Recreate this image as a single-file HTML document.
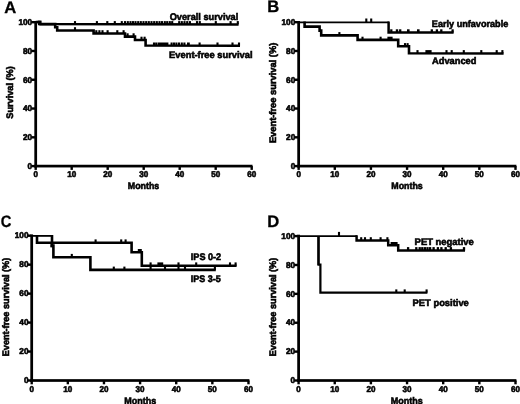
<!DOCTYPE html>
<html><head><meta charset="utf-8"><title>Figure</title>
<style>
html,body{margin:0;padding:0;background:#fff;}
body{width:520px;height:404px;overflow:hidden;font-family:"Liberation Sans",sans-serif;}
svg{display:block;}
svg text{font-family:"Liberation Sans",sans-serif;font-weight:bold;fill:#000;stroke:#000;stroke-width:0.58px;text-rendering:geometricPrecision;}
</style></head><body>
<svg width="520" height="404" viewBox="0 0 520 404">
<defs><filter id="bl" x="0" y="0" width="520" height="404" filterUnits="userSpaceOnUse"><feGaussianBlur stdDeviation="0.22"/></filter></defs>
<rect x="0" y="0" width="520" height="404" fill="#fff"/>
<g filter="url(#bl)">
<rect x="34.33" y="21.00" width="2.75" height="146.45" fill="#000"/>
<rect x="34.35" y="164.75" width="218.15" height="2.70" fill="#000"/>
<rect x="34.50" y="166.10" width="2.4" height="3.8" fill="#000"/>
<text x="35.70" y="177.20" font-size="8.40" text-anchor="middle" textLength="4.50" lengthAdjust="spacingAndGlyphs">0</text>
<rect x="70.50" y="166.10" width="2.4" height="3.8" fill="#000"/>
<text x="71.70" y="177.20" font-size="8.40" text-anchor="middle" textLength="9.01" lengthAdjust="spacingAndGlyphs">10</text>
<rect x="106.50" y="166.10" width="2.4" height="3.8" fill="#000"/>
<text x="107.70" y="177.20" font-size="8.40" text-anchor="middle" textLength="9.01" lengthAdjust="spacingAndGlyphs">20</text>
<rect x="142.50" y="166.10" width="2.4" height="3.8" fill="#000"/>
<text x="143.70" y="177.20" font-size="8.40" text-anchor="middle" textLength="9.01" lengthAdjust="spacingAndGlyphs">30</text>
<rect x="178.50" y="166.10" width="2.4" height="3.8" fill="#000"/>
<text x="179.70" y="177.20" font-size="8.40" text-anchor="middle" textLength="9.01" lengthAdjust="spacingAndGlyphs">40</text>
<rect x="214.50" y="166.10" width="2.4" height="3.8" fill="#000"/>
<text x="215.70" y="177.20" font-size="8.40" text-anchor="middle" textLength="9.01" lengthAdjust="spacingAndGlyphs">50</text>
<rect x="250.50" y="166.10" width="2.4" height="3.8" fill="#000"/>
<text x="251.70" y="177.20" font-size="8.40" text-anchor="middle" textLength="9.01" lengthAdjust="spacingAndGlyphs">60</text>
<rect x="31.30" y="21.00" width="4" height="2.4" fill="#000"/>
<text x="32.20" y="24.95" font-size="8.40" text-anchor="end" textLength="13.76" lengthAdjust="spacingAndGlyphs">100</text>
<rect x="31.30" y="49.78" width="4" height="2.4" fill="#000"/>
<text x="32.20" y="53.73" font-size="8.40" text-anchor="end" textLength="9.17" lengthAdjust="spacingAndGlyphs">80</text>
<rect x="31.30" y="78.56" width="4" height="2.4" fill="#000"/>
<text x="32.20" y="82.51" font-size="8.40" text-anchor="end" textLength="9.17" lengthAdjust="spacingAndGlyphs">60</text>
<rect x="31.30" y="107.34" width="4" height="2.4" fill="#000"/>
<text x="32.20" y="111.29" font-size="8.40" text-anchor="end" textLength="9.17" lengthAdjust="spacingAndGlyphs">40</text>
<rect x="31.30" y="136.12" width="4" height="2.4" fill="#000"/>
<text x="32.20" y="140.07" font-size="8.40" text-anchor="end" textLength="9.17" lengthAdjust="spacingAndGlyphs">20</text>
<rect x="31.30" y="164.90" width="4" height="2.4" fill="#000"/>
<text x="32.20" y="168.85" font-size="8.40" text-anchor="end" textLength="4.59" lengthAdjust="spacingAndGlyphs">0</text>
<text x="4.20" y="12.70" font-size="16.60" text-anchor="start" style="stroke-width:0.30px">A</text>
<text x="13.00" y="92.50" font-size="9.50" text-anchor="middle" textLength="52.40" lengthAdjust="spacingAndGlyphs" transform="rotate(-90 13.00 92.50)">Survival (%)</text>
<text x="143.50" y="189.30" font-size="9.50" text-anchor="middle" textLength="31.50" lengthAdjust="spacingAndGlyphs">Months</text>
<text x="169.70" y="20.00" font-size="9.50" text-anchor="start" textLength="68.60" lengthAdjust="spacingAndGlyphs">Overall survival</text>
<text x="169.10" y="58.40" font-size="9.50" text-anchor="start" textLength="83.50" lengthAdjust="spacingAndGlyphs">Event-free survival</text>
<rect x="37.7" y="20.6" width="3.9" height="3.6" fill="#000"/>
<path d="M35.70 22.00 L39.30 22.00 L39.30 24.05 L130.00 24.20 L238.60 24.50" fill="none" stroke="#000" stroke-width="2.60" stroke-linejoin="miter" stroke-linecap="butt"/>
<rect x="73.95" y="21.10" width="2.10" height="3.20" fill="#000"/>
<rect x="95.85" y="21.10" width="2.10" height="3.20" fill="#000"/>
<rect x="106.25" y="21.10" width="2.10" height="3.20" fill="#000"/>
<rect x="113.75" y="21.10" width="2.10" height="3.20" fill="#000"/>
<rect x="120.75" y="21.10" width="2.10" height="3.20" fill="#000"/>
<rect x="123.95" y="21.10" width="2.10" height="3.20" fill="#000"/>
<rect x="126.75" y="21.10" width="2.10" height="3.20" fill="#000"/>
<rect x="129.45" y="21.10" width="2.10" height="3.20" fill="#000"/>
<rect x="131.95" y="21.10" width="2.10" height="3.20" fill="#000"/>
<rect x="134.45" y="21.10" width="2.10" height="3.20" fill="#000"/>
<rect x="137.15" y="21.10" width="2.10" height="3.20" fill="#000"/>
<rect x="139.75" y="21.10" width="2.10" height="3.20" fill="#000"/>
<rect x="142.45" y="21.10" width="2.10" height="3.20" fill="#000"/>
<rect x="145.15" y="21.10" width="2.10" height="3.20" fill="#000"/>
<rect x="147.75" y="21.10" width="2.10" height="3.20" fill="#000"/>
<rect x="150.45" y="21.10" width="2.10" height="3.20" fill="#000"/>
<rect x="153.15" y="21.10" width="2.10" height="3.20" fill="#000"/>
<rect x="155.75" y="21.10" width="2.10" height="3.20" fill="#000"/>
<rect x="158.45" y="21.10" width="2.10" height="3.20" fill="#000"/>
<rect x="160.95" y="21.10" width="2.10" height="3.20" fill="#000"/>
<rect x="163.75" y="21.10" width="2.10" height="3.20" fill="#000"/>
<rect x="166.15" y="21.10" width="2.10" height="3.20" fill="#000"/>
<rect x="168.75" y="21.10" width="2.10" height="3.20" fill="#000"/>
<rect x="171.15" y="21.10" width="2.10" height="3.20" fill="#000"/>
<rect x="178.15" y="21.10" width="2.10" height="3.20" fill="#000"/>
<rect x="180.75" y="21.10" width="2.10" height="3.20" fill="#000"/>
<rect x="183.45" y="21.10" width="2.10" height="3.20" fill="#000"/>
<rect x="186.15" y="21.10" width="2.10" height="3.20" fill="#000"/>
<rect x="188.85" y="21.10" width="2.10" height="3.20" fill="#000"/>
<rect x="195.95" y="21.10" width="2.10" height="3.20" fill="#000"/>
<rect x="198.75" y="21.10" width="2.10" height="3.20" fill="#000"/>
<rect x="214.75" y="21.10" width="2.10" height="3.20" fill="#000"/>
<rect x="229.55" y="21.10" width="2.10" height="3.20" fill="#000"/>
<rect x="236.75" y="21.10" width="2.10" height="3.20" fill="#000"/>
<path d="M39.30 24.10 L55.20 24.10 L55.20 27.20 L57.20 27.20 L57.20 30.50 L93.60 30.50 L93.60 33.50 L125.00 33.50 L125.00 36.60 L135.00 36.60 L135.00 40.00 L145.60 40.00 L145.60 45.50 L240.00 45.80" fill="none" stroke="#000" stroke-width="2.60" stroke-linejoin="miter" stroke-linecap="butt"/>
<rect x="73.95" y="27.20" width="2.10" height="3.30" fill="#000"/>
<rect x="95.25" y="30.20" width="2.10" height="3.30" fill="#000"/>
<rect x="98.35" y="30.20" width="2.10" height="3.30" fill="#000"/>
<rect x="101.45" y="30.20" width="2.10" height="3.30" fill="#000"/>
<rect x="106.55" y="30.20" width="2.10" height="3.30" fill="#000"/>
<rect x="116.25" y="30.20" width="2.10" height="3.30" fill="#000"/>
<rect x="122.55" y="30.20" width="2.10" height="3.30" fill="#000"/>
<rect x="126.55" y="33.30" width="2.10" height="3.30" fill="#000"/>
<rect x="132.55" y="33.30" width="2.10" height="3.30" fill="#000"/>
<rect x="140.45" y="36.70" width="2.10" height="3.30" fill="#000"/>
<rect x="143.55" y="36.70" width="2.10" height="3.30" fill="#000"/>
<rect x="152.95" y="42.50" width="2.10" height="3.20" fill="#000"/>
<rect x="155.15" y="42.50" width="2.10" height="3.20" fill="#000"/>
<rect x="157.60" y="42.50" width="10.80" height="3.20" fill="#000"/>
<rect x="170.55" y="42.50" width="2.10" height="3.20" fill="#000"/>
<rect x="172.95" y="42.50" width="2.10" height="3.20" fill="#000"/>
<rect x="175.35" y="42.50" width="2.10" height="3.20" fill="#000"/>
<rect x="177.95" y="42.50" width="2.10" height="3.20" fill="#000"/>
<rect x="180.75" y="42.50" width="2.10" height="3.20" fill="#000"/>
<rect x="183.35" y="42.50" width="2.10" height="3.20" fill="#000"/>
<rect x="187.00" y="42.50" width="2.80" height="3.20" fill="#000"/>
<rect x="198.55" y="42.50" width="2.10" height="3.20" fill="#000"/>
<rect x="216.45" y="42.50" width="2.10" height="3.20" fill="#000"/>
<rect x="231.45" y="42.50" width="2.10" height="3.20" fill="#000"/>
<rect x="237.95" y="42.50" width="2.10" height="3.20" fill="#000"/>
<rect x="297.27" y="21.00" width="2.75" height="146.45" fill="#000"/>
<rect x="297.30" y="164.75" width="219.10" height="2.70" fill="#000"/>
<rect x="297.45" y="166.10" width="2.4" height="3.8" fill="#000"/>
<text x="298.65" y="177.20" font-size="8.40" text-anchor="middle" textLength="4.50" lengthAdjust="spacingAndGlyphs">0</text>
<rect x="333.59" y="166.10" width="2.4" height="3.8" fill="#000"/>
<text x="334.79" y="177.20" font-size="8.40" text-anchor="middle" textLength="9.01" lengthAdjust="spacingAndGlyphs">10</text>
<rect x="369.73" y="166.10" width="2.4" height="3.8" fill="#000"/>
<text x="370.93" y="177.20" font-size="8.40" text-anchor="middle" textLength="9.01" lengthAdjust="spacingAndGlyphs">20</text>
<rect x="405.87" y="166.10" width="2.4" height="3.8" fill="#000"/>
<text x="407.07" y="177.20" font-size="8.40" text-anchor="middle" textLength="9.01" lengthAdjust="spacingAndGlyphs">30</text>
<rect x="442.01" y="166.10" width="2.4" height="3.8" fill="#000"/>
<text x="443.21" y="177.20" font-size="8.40" text-anchor="middle" textLength="9.01" lengthAdjust="spacingAndGlyphs">40</text>
<rect x="478.15" y="166.10" width="2.4" height="3.8" fill="#000"/>
<text x="479.35" y="177.20" font-size="8.40" text-anchor="middle" textLength="9.01" lengthAdjust="spacingAndGlyphs">50</text>
<rect x="514.29" y="166.10" width="2.4" height="3.8" fill="#000"/>
<text x="515.49" y="177.20" font-size="8.40" text-anchor="middle" textLength="9.01" lengthAdjust="spacingAndGlyphs">60</text>
<rect x="294.25" y="21.00" width="4" height="2.4" fill="#000"/>
<text x="295.25" y="24.95" font-size="8.40" text-anchor="end" textLength="13.76" lengthAdjust="spacingAndGlyphs">100</text>
<rect x="294.25" y="49.78" width="4" height="2.4" fill="#000"/>
<text x="295.25" y="53.73" font-size="8.40" text-anchor="end" textLength="9.17" lengthAdjust="spacingAndGlyphs">80</text>
<rect x="294.25" y="78.56" width="4" height="2.4" fill="#000"/>
<text x="295.25" y="82.51" font-size="8.40" text-anchor="end" textLength="9.17" lengthAdjust="spacingAndGlyphs">60</text>
<rect x="294.25" y="107.34" width="4" height="2.4" fill="#000"/>
<text x="295.25" y="111.29" font-size="8.40" text-anchor="end" textLength="9.17" lengthAdjust="spacingAndGlyphs">40</text>
<rect x="294.25" y="136.12" width="4" height="2.4" fill="#000"/>
<text x="295.25" y="140.07" font-size="8.40" text-anchor="end" textLength="9.17" lengthAdjust="spacingAndGlyphs">20</text>
<rect x="294.25" y="164.90" width="4" height="2.4" fill="#000"/>
<text x="295.25" y="168.85" font-size="8.40" text-anchor="end" textLength="4.59" lengthAdjust="spacingAndGlyphs">0</text>
<text x="267.20" y="12.30" font-size="16.60" text-anchor="start" style="stroke-width:0.30px">B</text>
<text x="276.50" y="92.90" font-size="9.50" text-anchor="middle" textLength="100.40" lengthAdjust="spacingAndGlyphs" transform="rotate(-90 276.50 92.90)">Event-free survival (%)</text>
<text x="407.00" y="189.30" font-size="9.50" text-anchor="middle" textLength="31.50" lengthAdjust="spacingAndGlyphs">Months</text>
<text x="431.80" y="26.80" font-size="9.50" text-anchor="start" textLength="76.50" lengthAdjust="spacingAndGlyphs">Early unfavorable</text>
<text x="432.00" y="63.60" font-size="9.50" text-anchor="start" textLength="44.40" lengthAdjust="spacingAndGlyphs">Advanced</text>
<path d="M298.65 22.40 L389.00 22.40" fill="none" stroke="#000" stroke-width="1.80" stroke-linejoin="miter" stroke-linecap="butt"/>
<path d="M388.60 21.60 L388.60 32.60 L453.60 32.60" fill="none" stroke="#000" stroke-width="2.50" stroke-linejoin="miter" stroke-linecap="butt"/>
<rect x="365.25" y="18.50" width="2.10" height="3.90" fill="#000"/>
<rect x="370.15" y="18.50" width="2.10" height="3.90" fill="#000"/>
<rect x="390.15" y="29.30" width="2.30" height="3.30" fill="#000"/>
<rect x="395.80" y="29.30" width="2.40" height="3.30" fill="#000"/>
<rect x="399.05" y="29.30" width="2.30" height="3.30" fill="#000"/>
<rect x="407.00" y="29.30" width="2.60" height="3.30" fill="#000"/>
<rect x="417.00" y="29.30" width="2.60" height="3.30" fill="#000"/>
<rect x="430.65" y="29.30" width="2.30" height="3.30" fill="#000"/>
<rect x="435.75" y="29.30" width="2.30" height="3.30" fill="#000"/>
<rect x="440.15" y="29.30" width="2.30" height="3.30" fill="#000"/>
<rect x="451.45" y="29.30" width="2.30" height="3.30" fill="#000"/>
<path d="M304.60 21.60 L304.60 26.60 L319.60 26.60 L319.60 30.60 L321.20 30.60 L321.20 35.40 L357.60 35.40 L357.60 39.90 L398.20 39.90 L398.20 46.30 L409.00 46.30 L409.00 53.30 L503.60 53.50" fill="none" stroke="#000" stroke-width="2.60" stroke-linejoin="miter" stroke-linecap="butt"/>
<rect x="338.35" y="32.10" width="2.10" height="3.30" fill="#000"/>
<rect x="361.45" y="36.70" width="2.10" height="3.20" fill="#000"/>
<rect x="379.55" y="36.70" width="2.10" height="3.20" fill="#000"/>
<rect x="387.40" y="36.70" width="5.20" height="3.20" fill="#000"/>
<rect x="403.95" y="43.10" width="2.10" height="3.20" fill="#000"/>
<rect x="406.55" y="43.10" width="2.10" height="3.20" fill="#000"/>
<rect x="416.45" y="50.10" width="2.10" height="3.30" fill="#000"/>
<rect x="425.40" y="50.10" width="6.20" height="3.30" fill="#000"/>
<rect x="445.45" y="50.10" width="2.10" height="3.30" fill="#000"/>
<rect x="450.65" y="50.10" width="2.10" height="3.30" fill="#000"/>
<rect x="462.75" y="50.10" width="2.10" height="3.30" fill="#000"/>
<rect x="480.25" y="50.10" width="2.10" height="3.30" fill="#000"/>
<rect x="495.65" y="50.10" width="2.10" height="3.30" fill="#000"/>
<rect x="501.35" y="50.10" width="2.10" height="3.30" fill="#000"/>
<rect x="30.32" y="234.40" width="2.75" height="147.45" fill="#000"/>
<rect x="30.35" y="379.15" width="219.05" height="2.70" fill="#000"/>
<rect x="30.50" y="380.50" width="2.4" height="3.8" fill="#000"/>
<text x="31.70" y="391.70" font-size="8.40" text-anchor="middle" textLength="4.50" lengthAdjust="spacingAndGlyphs">0</text>
<rect x="66.63" y="380.50" width="2.4" height="3.8" fill="#000"/>
<text x="67.83" y="391.70" font-size="8.40" text-anchor="middle" textLength="9.01" lengthAdjust="spacingAndGlyphs">10</text>
<rect x="102.76" y="380.50" width="2.4" height="3.8" fill="#000"/>
<text x="103.96" y="391.70" font-size="8.40" text-anchor="middle" textLength="9.01" lengthAdjust="spacingAndGlyphs">20</text>
<rect x="138.89" y="380.50" width="2.4" height="3.8" fill="#000"/>
<text x="140.09" y="391.70" font-size="8.40" text-anchor="middle" textLength="9.01" lengthAdjust="spacingAndGlyphs">30</text>
<rect x="175.02" y="380.50" width="2.4" height="3.8" fill="#000"/>
<text x="176.22" y="391.70" font-size="8.40" text-anchor="middle" textLength="9.01" lengthAdjust="spacingAndGlyphs">40</text>
<rect x="211.15" y="380.50" width="2.4" height="3.8" fill="#000"/>
<text x="212.35" y="391.70" font-size="8.40" text-anchor="middle" textLength="9.01" lengthAdjust="spacingAndGlyphs">50</text>
<rect x="247.28" y="380.50" width="2.4" height="3.8" fill="#000"/>
<text x="248.48" y="391.70" font-size="8.40" text-anchor="middle" textLength="9.01" lengthAdjust="spacingAndGlyphs">60</text>
<rect x="27.30" y="234.50" width="4" height="2.4" fill="#000"/>
<text x="28.50" y="238.45" font-size="8.40" text-anchor="end" textLength="13.76" lengthAdjust="spacingAndGlyphs">100</text>
<rect x="27.30" y="263.46" width="4" height="2.4" fill="#000"/>
<text x="28.50" y="267.41" font-size="8.40" text-anchor="end" textLength="9.17" lengthAdjust="spacingAndGlyphs">80</text>
<rect x="27.30" y="292.42" width="4" height="2.4" fill="#000"/>
<text x="28.50" y="296.37" font-size="8.40" text-anchor="end" textLength="9.17" lengthAdjust="spacingAndGlyphs">60</text>
<rect x="27.30" y="321.38" width="4" height="2.4" fill="#000"/>
<text x="28.50" y="325.33" font-size="8.40" text-anchor="end" textLength="9.17" lengthAdjust="spacingAndGlyphs">40</text>
<rect x="27.30" y="350.34" width="4" height="2.4" fill="#000"/>
<text x="28.50" y="354.29" font-size="8.40" text-anchor="end" textLength="9.17" lengthAdjust="spacingAndGlyphs">20</text>
<rect x="27.30" y="379.30" width="4" height="2.4" fill="#000"/>
<text x="28.50" y="383.25" font-size="8.40" text-anchor="end" textLength="4.59" lengthAdjust="spacingAndGlyphs">0</text>
<text x="0.70" y="227.30" font-size="16.60" text-anchor="start" style="stroke-width:0.30px" textLength="10.60" lengthAdjust="spacingAndGlyphs">C</text>
<text x="9.20" y="307.00" font-size="9.50" text-anchor="middle" textLength="98.60" lengthAdjust="spacingAndGlyphs" transform="rotate(-90 9.20 307.00)">Event-free survival (%)</text>
<text x="140.20" y="404.10" font-size="9.50" text-anchor="middle" textLength="32.00" lengthAdjust="spacingAndGlyphs">Months</text>
<text x="190.80" y="260.10" font-size="9.50" text-anchor="start" textLength="30.40" lengthAdjust="spacingAndGlyphs">IPS 0-2</text>
<text x="190.80" y="281.90" font-size="9.50" text-anchor="start" textLength="30.00" lengthAdjust="spacingAndGlyphs">IPS 3-5</text>
<path d="M31.70 235.90 L52.90 235.90" fill="none" stroke="#000" stroke-width="1.80" stroke-linejoin="miter" stroke-linecap="butt"/>
<path d="M37.00 235.00 L37.00 242.70 L131.60 242.70 L131.60 252.20 L141.80 252.20 L141.80 265.80 L236.60 265.80" fill="none" stroke="#000" stroke-width="2.60" stroke-linejoin="miter" stroke-linecap="butt"/>
<rect x="94.55" y="239.40" width="2.10" height="3.30" fill="#000"/>
<rect x="120.15" y="239.40" width="2.10" height="3.30" fill="#000"/>
<rect x="124.55" y="239.40" width="2.10" height="3.30" fill="#000"/>
<rect x="137.80" y="249.00" width="4.00" height="3.20" fill="#000"/>
<rect x="149.55" y="262.40" width="2.10" height="3.40" fill="#000"/>
<rect x="157.40" y="262.40" width="5.80" height="3.40" fill="#000"/>
<rect x="177.45" y="262.40" width="2.10" height="3.40" fill="#000"/>
<rect x="195.15" y="262.40" width="2.10" height="3.40" fill="#000"/>
<rect x="228.95" y="262.40" width="2.10" height="3.40" fill="#000"/>
<rect x="234.55" y="262.40" width="2.10" height="3.40" fill="#000"/>
<path d="M52.00 235.00 L52.00 245.60 L53.40 245.60 L53.40 257.20 L90.40 257.20 L90.40 269.90 L215.80 269.90" fill="none" stroke="#000" stroke-width="2.60" stroke-linejoin="miter" stroke-linecap="butt"/>
<rect x="50.4" y="244.2" width="2.6" height="3.2" fill="#000"/>
<rect x="70.75" y="253.90" width="2.10" height="3.30" fill="#000"/>
<rect x="112.75" y="266.60" width="2.10" height="3.30" fill="#000"/>
<rect x="123.35" y="266.60" width="2.10" height="3.30" fill="#000"/>
<rect x="149.55" y="265.90" width="2.10" height="4.00" fill="#000"/>
<rect x="163.95" y="265.90" width="2.10" height="4.00" fill="#000"/>
<rect x="177.45" y="265.90" width="2.10" height="4.00" fill="#000"/>
<rect x="183.95" y="265.90" width="2.10" height="4.00" fill="#000"/>
<rect x="213.85" y="265.90" width="2.10" height="4.00" fill="#000"/>
<rect x="297.23" y="234.70" width="2.75" height="147.15" fill="#000"/>
<rect x="297.25" y="379.15" width="219.15" height="2.70" fill="#000"/>
<rect x="297.40" y="380.50" width="2.4" height="3.8" fill="#000"/>
<text x="298.60" y="391.70" font-size="8.40" text-anchor="middle" textLength="4.50" lengthAdjust="spacingAndGlyphs">0</text>
<rect x="333.55" y="380.50" width="2.4" height="3.8" fill="#000"/>
<text x="334.75" y="391.70" font-size="8.40" text-anchor="middle" textLength="9.01" lengthAdjust="spacingAndGlyphs">10</text>
<rect x="369.70" y="380.50" width="2.4" height="3.8" fill="#000"/>
<text x="370.90" y="391.70" font-size="8.40" text-anchor="middle" textLength="9.01" lengthAdjust="spacingAndGlyphs">20</text>
<rect x="405.85" y="380.50" width="2.4" height="3.8" fill="#000"/>
<text x="407.05" y="391.70" font-size="8.40" text-anchor="middle" textLength="9.01" lengthAdjust="spacingAndGlyphs">30</text>
<rect x="442.00" y="380.50" width="2.4" height="3.8" fill="#000"/>
<text x="443.20" y="391.70" font-size="8.40" text-anchor="middle" textLength="9.01" lengthAdjust="spacingAndGlyphs">40</text>
<rect x="478.15" y="380.50" width="2.4" height="3.8" fill="#000"/>
<text x="479.35" y="391.70" font-size="8.40" text-anchor="middle" textLength="9.01" lengthAdjust="spacingAndGlyphs">50</text>
<rect x="514.30" y="380.50" width="2.4" height="3.8" fill="#000"/>
<text x="515.50" y="391.70" font-size="8.40" text-anchor="middle" textLength="9.01" lengthAdjust="spacingAndGlyphs">60</text>
<rect x="294.20" y="234.90" width="4" height="2.4" fill="#000"/>
<text x="295.10" y="238.85" font-size="8.40" text-anchor="end" textLength="13.76" lengthAdjust="spacingAndGlyphs">100</text>
<rect x="294.20" y="263.78" width="4" height="2.4" fill="#000"/>
<text x="295.10" y="267.73" font-size="8.40" text-anchor="end" textLength="9.17" lengthAdjust="spacingAndGlyphs">80</text>
<rect x="294.20" y="292.66" width="4" height="2.4" fill="#000"/>
<text x="295.10" y="296.61" font-size="8.40" text-anchor="end" textLength="9.17" lengthAdjust="spacingAndGlyphs">60</text>
<rect x="294.20" y="321.54" width="4" height="2.4" fill="#000"/>
<text x="295.10" y="325.49" font-size="8.40" text-anchor="end" textLength="9.17" lengthAdjust="spacingAndGlyphs">40</text>
<rect x="294.20" y="350.42" width="4" height="2.4" fill="#000"/>
<text x="295.10" y="354.37" font-size="8.40" text-anchor="end" textLength="9.17" lengthAdjust="spacingAndGlyphs">20</text>
<rect x="294.20" y="379.30" width="4" height="2.4" fill="#000"/>
<text x="295.10" y="383.25" font-size="8.40" text-anchor="end" textLength="4.59" lengthAdjust="spacingAndGlyphs">0</text>
<text x="267.30" y="227.30" font-size="16.60" text-anchor="start" style="stroke-width:0.30px">D</text>
<text x="276.30" y="307.00" font-size="9.50" text-anchor="middle" textLength="98.60" lengthAdjust="spacingAndGlyphs" transform="rotate(-90 276.30 307.00)">Event-free survival (%)</text>
<text x="406.80" y="404.10" font-size="9.50" text-anchor="middle" textLength="32.00" lengthAdjust="spacingAndGlyphs">Months</text>
<text x="414.60" y="244.90" font-size="9.50" text-anchor="start" textLength="59.20" lengthAdjust="spacingAndGlyphs">PET negative</text>
<text x="412.60" y="306.30" font-size="9.50" text-anchor="start" textLength="56.20" lengthAdjust="spacingAndGlyphs">PET positive</text>
<path d="M298.60 236.10 L357.00 236.10" fill="none" stroke="#000" stroke-width="1.70" stroke-linejoin="miter" stroke-linecap="butt"/>
<path d="M356.60 235.30 L356.60 240.40 L388.20 240.40 L388.20 245.20 L398.20 245.20 L398.20 250.60 L465.00 250.60" fill="none" stroke="#000" stroke-width="2.50" stroke-linejoin="miter" stroke-linecap="butt"/>
<rect x="337.95" y="231.90" width="2.10" height="4.20" fill="#000"/>
<rect x="360.15" y="237.20" width="2.10" height="3.20" fill="#000"/>
<rect x="363.95" y="237.20" width="2.10" height="3.20" fill="#000"/>
<rect x="369.75" y="237.20" width="2.10" height="3.20" fill="#000"/>
<rect x="379.55" y="237.20" width="2.10" height="3.20" fill="#000"/>
<rect x="386.35" y="237.20" width="2.10" height="3.20" fill="#000"/>
<rect x="390.60" y="242.00" width="7.00" height="3.20" fill="#000"/>
<rect x="406.95" y="247.10" width="2.30" height="3.50" fill="#000"/>
<rect x="415.15" y="247.10" width="2.30" height="3.50" fill="#000"/>
<rect x="418.55" y="247.10" width="2.30" height="3.50" fill="#000"/>
<rect x="421.15" y="247.10" width="2.30" height="3.50" fill="#000"/>
<rect x="423.75" y="247.10" width="2.30" height="3.50" fill="#000"/>
<rect x="426.35" y="247.10" width="2.30" height="3.50" fill="#000"/>
<rect x="428.95" y="247.10" width="2.30" height="3.50" fill="#000"/>
<rect x="432.45" y="247.10" width="2.30" height="3.50" fill="#000"/>
<rect x="436.75" y="247.10" width="2.30" height="3.50" fill="#000"/>
<rect x="440.25" y="247.10" width="2.30" height="3.50" fill="#000"/>
<rect x="444.55" y="247.10" width="2.30" height="3.50" fill="#000"/>
<rect x="449.75" y="247.10" width="2.30" height="3.50" fill="#000"/>
<rect x="462.85" y="247.10" width="2.30" height="3.50" fill="#000"/>
<path d="M318.50 236.10 L318.50 264.60 L320.40 264.60 L320.40 292.60 L427.40 292.60" fill="none" stroke="#000" stroke-width="2.20" stroke-linejoin="miter" stroke-linecap="butt"/>
<rect x="317.4" y="236" width="2.2" height="29" fill="#000"/>
<rect x="395.25" y="289.40" width="2.10" height="3.20" fill="#000"/>
<rect x="403.65" y="289.40" width="2.10" height="3.20" fill="#000"/>
<rect x="425.55" y="289.40" width="2.10" height="3.20" fill="#000"/>
</g>
</svg>
</body></html>
